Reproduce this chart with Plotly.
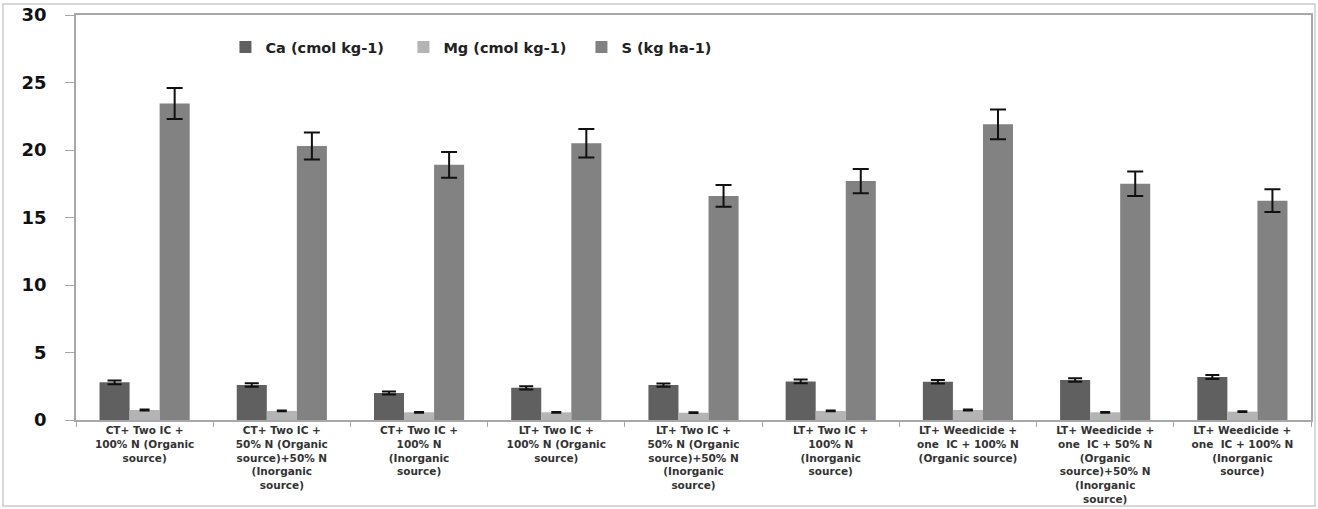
import plotly.graph_objects as go

categories = [
    "CT+ Two IC +<br>100% N (Organic<br>source)",
    "CT+ Two IC +<br>50% N (Organic<br>source)+50% N<br>(Inorganic<br>source)",
    "CT+ Two IC +<br>100% N<br>(Inorganic<br>source)",
    "LT+ Two IC +<br>100% N (Organic<br>source)",
    "LT+ Two IC +<br>50% N (Organic<br>source)+50% N<br>(Inorganic<br>source)",
    "LT+ Two IC +<br>100% N<br>(Inorganic<br>source)",
    "LT+ Weedicide +<br>one  IC + 100% N<br>(Organic source)",
    "LT+ Weedicide +<br>one  IC + 50% N<br>(Organic<br>source)+50% N<br>(Inorganic<br>source)",
    "LT+ Weedicide +<br>one  IC + 100% N<br>(Inorganic<br>source)",
]

ca_values = [2.79, 2.59, 2.00, 2.38, 2.59, 2.86, 2.84, 2.96, 3.19]
ca_errors = [0.14, 0.13, 0.12, 0.12, 0.12, 0.14, 0.13, 0.13, 0.15]

mg_values = [0.74, 0.67, 0.57, 0.57, 0.54, 0.67, 0.74, 0.57, 0.62]
mg_errors = [0.03, 0.03, 0.03, 0.03, 0.03, 0.03, 0.03, 0.03, 0.03]

s_values = [23.45, 20.3, 18.9, 20.5, 16.6, 17.7, 21.9, 17.5, 16.25]
s_errors = [1.15, 1.0, 0.95, 1.05, 0.8, 0.9, 1.1, 0.9, 0.85]

series_names = ["Ca (cmol kg-1)", "Mg (cmol kg-1)", "S (kg ha-1)"]
y_ticks = [0, 5, 10, 15, 20, 25, 30]

colors = ["#606060", "#b4b4b4", "#828282"]
err_widths = [7, 5, 8]

fig = go.Figure()
for name, vals, errs, col, ew in zip(series_names,
                                     [ca_values, mg_values, s_values],
                                     [ca_errors, mg_errors, s_errors],
                                     colors, err_widths):
    fig.add_trace(go.Bar(
        x=categories, y=vals, name=name,
        marker=dict(color=col, line=dict(width=0)),
        error_y=dict(type="data", array=errs, visible=True,
                     color="#111111", thickness=2, width=ew),
    ))

fig.update_layout(
    width=1318, height=509,
    margin=dict(l=76, r=7, t=15, b=89, autoexpand=False),
    paper_bgcolor="white", plot_bgcolor="white",
    barmode="group", bargap=0.343, bargroupgap=0,
    font=dict(family="DejaVu Sans", color="#222222"),
    showlegend=True,
    legend=dict(orientation="h", x=0.121, xanchor="left",
                y=0.921, yanchor="middle",
                font=dict(size=14.5, family="DejaVu Sans", weight="bold", color="#222222"),
                entrywidth=133, entrywidthmode="pixels",
                bgcolor="rgba(0,0,0,0)", traceorder="normal"),
    xaxis=dict(
        showline=True, linecolor="#a8a8a8", linewidth=1.5, mirror=True,
        ticks="outside", tickson="boundaries", ticklen=5, tickcolor="#a8a8a8",
        tickfont=dict(size=10.5, family="DejaVu Sans", weight="bold", color="#333333"),
        tickangle=0, showgrid=False, zeroline=False,
    ),
    yaxis=dict(
        range=[0, 30], tickvals=y_ticks, ticktext=[str(v) for v in y_ticks],
        showline=True, linecolor="#a8a8a8", linewidth=1.5, mirror=True,
        ticks="outside", ticklen=9, tickcolor="#a8a8a8",
        ticklabelstandoff=15,
        tickfont=dict(size=18, family="DejaVu Sans", weight="bold", color="#111111"),
        showgrid=False, zeroline=False,
    ),
)

fig.add_shape(type="rect", xref="paper", yref="paper",
              x0=(3 - 76) / 1235, x1=(1315 - 76) / 1235,
              y0=(420 - 506) / 405, y1=(420 - 4) / 405,
              line=dict(color="#cccccc", width=1.5), fillcolor="rgba(0,0,0,0)",
              layer="below")

fig.write_html("out.html", config={"displayModeBar": False},
               post_script="document.body.style.margin='0';document.body.style.padding='0';")
